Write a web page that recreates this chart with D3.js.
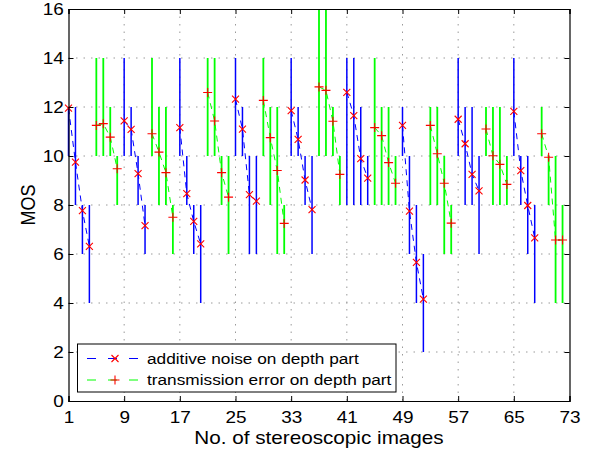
<!DOCTYPE html>
<html>
<head>
<meta charset="utf-8">
<script src="https://cdnjs.cloudflare.com/ajax/libs/d3/7.8.5/d3.min.js"></script>
<style>
  body { margin: 0; background: #fff; }
  text { font-family: "Liberation Sans", Arial, Helvetica, sans-serif; fill: #000; }
</style>
</head>
<body>
<div id="chart"></div>
<script>
// data
// additive noise on depth part (blue)
let noiseX = [1, 2, 3, 4, 9, 10, 11, 12, 17, 18, 19, 20, 25, 26, 27, 28, 33, 34, 35, 36,
  41, 42, 43, 44, 49, 50, 51, 52, 57, 58, 59, 60, 65, 66, 67, 68];
let noiseMos = [11.95, 9.75, 7.77, 6.31, 11.43, 11.09, 9.28, 7.16, 11.16, 8.46, 7.33, 6.41,
  12.32, 11.1, 8.42, 8.16, 11.85, 10.68, 9.02, 7.81, 12.6, 11.65, 9.89, 9.1,
  11.25, 7.75, 5.66, 4.16, 11.5, 10.5, 9.25, 8.58, 11.82, 9.4, 7.98, 6.66];
let noiseLow = [10, 8, 6, 4, 10, 10, 8, 6, 10, 8, 6, 4, 10, 10, 6, 6, 10, 10, 8, 6,
  8, 8, 8, 8, 10, 6, 4, 2, 10, 8, 8, 6, 10, 8, 6, 4];
let noiseHigh = [12, 12, 8, 8, 14, 12, 10, 8, 14, 10, 8, 8, 14, 12, 10, 10, 14, 12, 10, 10,
  14, 14, 12, 10, 12, 10, 8, 6, 14, 12, 12, 10, 14, 10, 10, 8];

// transmission error on depth part (green)
let transX = [5, 6, 7, 8, 13, 14, 15, 16, 21, 22, 23, 24, 29, 30, 31, 32, 37, 38, 39, 40,
  45, 46, 47, 48, 53, 54, 55, 56, 61, 62, 63, 64, 69, 70, 71, 72];
let transMos = [11.25, 11.32, 10.77, 9.48, 10.91, 10.16, 9.32, 7.5, 12.59, 11.43, 9.32, 8.32,
  12.27, 10.75, 9.41, 7.25, 12.82, 12.68, 11.42, 9.25, 11.16, 10.83, 9.73, 8.89,
  11.25, 10.09, 8.89, 7.26, 11.1, 10.01, 9.66, 8.84, 10.91, 9.95, 6.57, 6.57];
let transLow = [10, 10, 10, 8, 10, 8, 8, 6, 10, 10, 8, 6, 10, 8, 6, 6, 10, 10, 10, 8,
  8, 8, 8, 8, 8, 8, 6, 6, 10, 8, 8, 8, 10, 8, 4, 4];
let transHigh = [14, 14, 12, 10, 14, 12, 12, 8, 14, 14, 10, 10, 14, 12, 12, 8, 16, 16, 12, 10,
  14, 12, 12, 10, 12, 12, 10, 8, 12, 12, 12, 10, 12, 10, 10, 8];

let xTicks = [1, 9, 17, 25, 33, 41, 49, 57, 65, 73];
let yTicks = [0, 2, 4, 6, 8, 10, 12, 14, 16];
let legendNames = ["additive noise on depth part", "transmission error on depth part"];

// sizes
let width = 595;
let height = 454;
let plotLeft = 68.5;
let plotRight = 569.5;
let plotTop = 9;
let plotBottom = 401;
// text in the picture is a bit wider than it is tall
let stretch = 1.15;

let svg = d3
  .select("#chart")
  .append("svg")
  .attr("width", width)
  .attr("height", height);

let xScale = d3.scaleLinear().domain([1, 73]).range([plotLeft, plotRight]);
let yScale = d3.scaleLinear().domain([0, 16]).range([plotBottom, plotTop]);

// dotted grid
let grid = svg.append("g").attr("class", "grid");
grid
  .selectAll(".vgrid")
  .data(xTicks.slice(1, -1))
  .enter()
  .append("line")
  .attr("x1", d => xScale(d))
  .attr("x2", d => xScale(d))
  .attr("y1", plotTop)
  .attr("y2", plotBottom);
grid
  .selectAll(".hgrid")
  .data(yTicks.slice(1, -1))
  .enter()
  .append("line")
  .attr("x1", plotLeft)
  .attr("x2", plotRight)
  .attr("y1", d => yScale(d))
  .attr("y2", d => yScale(d));
grid
  .selectAll("line")
  .attr("stroke", "#9a9a9a")
  .attr("stroke-width", 1)
  .attr("stroke-dasharray", "1.5,6");

// split a series into runs of neighbouring images
function runs(xs, ys) {
  let out = [];
  let cur = [];
  xs.forEach(function(x, i) {
    if (cur.length && x - cur[cur.length - 1][0] > 1) {
      out.push(cur);
      cur = [];
    }
    cur.push([x, ys[i]]);
  });
  if (cur.length) out.push(cur);
  return out;
}

let line = d3
  .line()
  .x(d => xScale(d[0]))
  .y(d => yScale(d[1]));

let xMark = "M-3.5,-3.5L3.5,3.5M-3.5,3.5L3.5,-3.5";
let plusMark = "M-4.5,0H4.5M0,-4.5V4.5";

function drawSeries(xs, mos, low, high, color, barWidth, mark) {
  let g = svg.append("g");
  // error bars
  g.selectAll(".bar")
    .data(xs)
    .enter()
    .append("line")
    .attr("x1", d => xScale(d))
    .attr("x2", d => xScale(d))
    .attr("y1", (d, i) => yScale(low[i]))
    .attr("y2", (d, i) => yScale(high[i]))
    .attr("stroke", color)
    .attr("stroke-width", barWidth);
  // dashed connecting lines
  g.selectAll(".run")
    .data(runs(xs, mos))
    .enter()
    .append("path")
    .attr("d", line)
    .attr("fill", "none")
    .attr("stroke", color)
    .attr("stroke-width", 1)
    .attr("stroke-dasharray", "6,5");
  // markers
  g.selectAll(".mark")
    .data(xs)
    .enter()
    .append("path")
    .attr("d", mark)
    .attr("transform", (d, i) => `translate(${xScale(d)},${yScale(mos[i])})`)
    .attr("fill", "none")
    .attr("stroke", "#ff0000")
    .attr("stroke-width", 1.1);
}

drawSeries(noiseX, noiseMos, noiseLow, noiseHigh, "#0000ff", 1.5, xMark);
drawSeries(transX, transMos, transLow, transHigh, "#00ff00", 1.8, plusMark);

// axes with inward ticks on all four sides
let xAxis = d3.axisBottom(xScale).tickValues(xTicks).tickSize(-5).tickPadding(10);
let yAxis = d3.axisLeft(yScale).tickValues(yTicks).tickSize(-5).tickPadding(4);

let gx = svg
  .append("g")
  .attr("transform", `translate(0,${plotBottom})`)
  .call(xAxis);
let gy = svg
  .append("g")
  .attr("transform", `translate(${plotLeft},0)`)
  .call(yAxis);
let gTop = svg
  .append("g")
  .attr("transform", `translate(0,${plotTop})`)
  .call(d3.axisTop(xScale).tickValues(xTicks).tickSize(-5).tickFormat(""));
let gRight = svg
  .append("g")
  .attr("transform", `translate(${plotRight},0)`)
  .call(d3.axisRight(yScale).tickValues(yTicks).tickSize(-5).tickFormat(""));

[gx, gy, gTop, gRight].forEach(function(g) {
  g.selectAll("path").attr("stroke", "#000").attr("stroke-width", 1.2);
  g.selectAll("line").attr("stroke", "#000").attr("stroke-width", 1);
  g.selectAll("text")
    .attr("font-size", 16.5)
    .attr("font-family", "Liberation Sans, Arial, sans-serif")
    .attr("fill", "#000");
});
gx.selectAll("text").attr("transform", `scale(${stretch},1)`);
gy.selectAll("text").attr("transform", `scale(${stretch},1)`);

// axis labels
svg
  .append("text")
  .attr("transform", `translate(${(plotLeft + plotRight) / 2},444) scale(${stretch},1)`)
  .attr("text-anchor", "middle")
  .attr("font-size", 18)
  .text("No. of stereoscopic images");
svg
  .append("text")
  .attr("transform", `translate(35,${(plotTop + plotBottom) / 2}) scale(${stretch},1) rotate(-90)`)
  .attr("text-anchor", "middle")
  .attr("font-size", 18)
  .text("MOS");

// legend
let legend = svg.append("g").attr("class", "legend");
legend
  .append("rect")
  .attr("x", 77.5)
  .attr("y", 344)
  .attr("width", 318.5)
  .attr("height", 48)
  .attr("fill", "#fff")
  .attr("stroke", "#000")
  .attr("stroke-width", 1);

let legendRows = [
  { name: legendNames[0], color: "#0000ff", mark: xMark, y: 358.5 },
  { name: legendNames[1], color: "#00ff00", mark: plusMark, y: 380 }
];
legendRows.forEach(function(row) {
  legend
    .append("line")
    .attr("x1", 87)
    .attr("x2", 142)
    .attr("y1", row.y)
    .attr("y2", row.y)
    .attr("stroke", row.color)
    .attr("stroke-width", 1)
    .attr("stroke-dasharray", "9,12");
  legend
    .append("path")
    .attr("d", row.mark)
    .attr("transform", `translate(115,${row.y})`)
    .attr("fill", "none")
    .attr("stroke", "#ff0000")
    .attr("stroke-width", 1.1);
  legend
    .append("text")
    .attr("transform", `translate(147,${row.y}) scale(${stretch},1)`)
    .attr("dy", "0.35em")
    .attr("font-size", 15)
    .text(row.name);
});
</script>
</body>
</html>
